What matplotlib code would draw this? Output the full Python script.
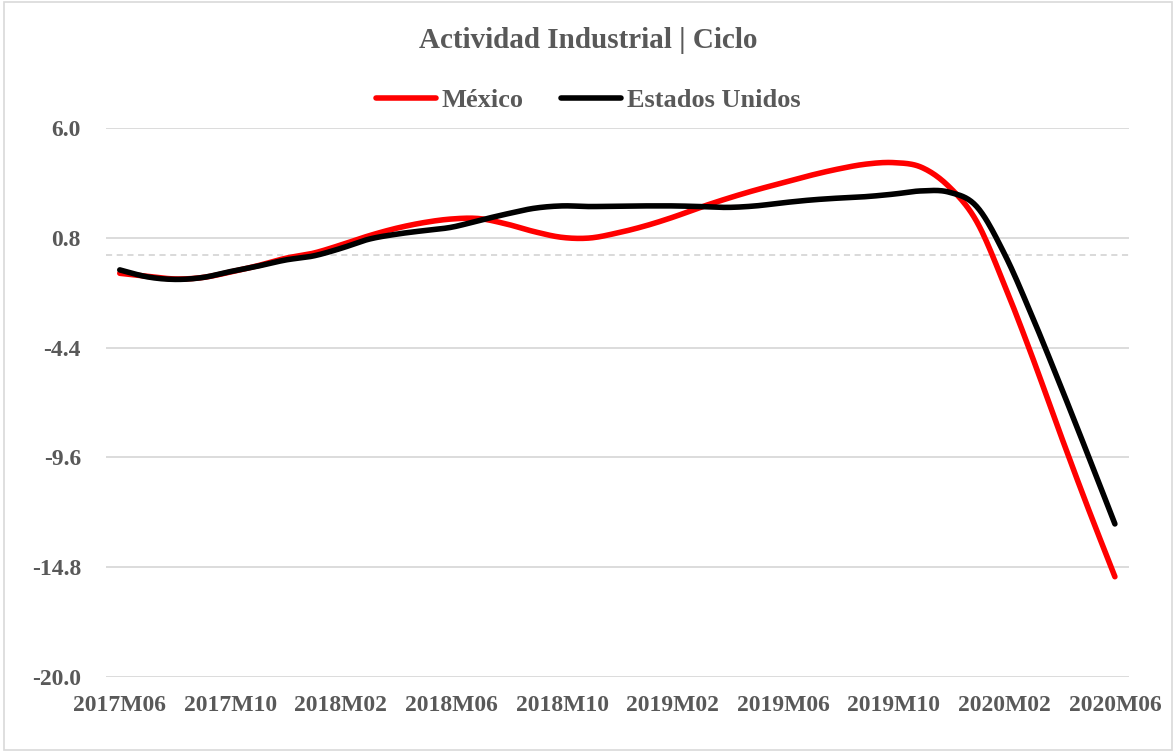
import numpy as np
import matplotlib
matplotlib.use('Agg')
import matplotlib.pyplot as plt
from matplotlib.patches import Rectangle

# Periodos mensuales 2017M06 - 2020M06
periodos = [f'{2017 + (5 + i) // 12}M{(5 + i) % 12 + 1:02d}' for i in range(37)]

mexico = [-0.88, -1.02, -1.15, -1.08, -0.82, -0.52, -0.17, 0.07, 0.46, 0.89,
          1.25, 1.52, 1.69, 1.71, 1.45, 1.09, 0.82, 0.79, 1.03, 1.36,
          1.77, 2.24, 2.67, 3.06, 3.41, 3.76, 4.06, 4.29, 4.36, 4.14,
          3.22, 1.57, -1.42, -4.80, -8.40, -11.90, -15.25]

estados_unidos = [-0.72, -1.05, -1.17, -1.08, -0.80, -0.54, -0.25, -0.06, 0.30, 0.73,
                  0.97, 1.14, 1.30, 1.62, 1.93, 2.20, 2.31, 2.28, 2.30, 2.31,
                  2.31, 2.28, 2.24, 2.31, 2.46, 2.59, 2.68, 2.75, 2.87, 3.02,
                  2.96, 2.28, 0.05, -2.90, -6.10, -9.40, -12.75]

y_ticks = [6.0, 0.8, -4.4, -9.6, -14.8, -20.0]

GRIS = '#595959'
FUENTE = 'Liberation Serif'


def suavizar(y, pasos=20):
    """Curva suavizada tipo Excel (Catmull-Rom / Bezier) entre puntos mensuales."""
    y = np.asarray(y, dtype=float)
    x = np.arange(len(y), dtype=float)
    xp = np.concatenate([[x[0]], x, [x[-1]]])
    yp = np.concatenate([[y[0]], y, [y[-1]]])
    xs, ys = [], []
    t = np.linspace(0, 1, pasos, endpoint=False)
    for i in range(1, len(xp) - 2):
        p0 = np.array([xp[i], yp[i]])
        p3 = np.array([xp[i + 1], yp[i + 1]])
        c1 = p0 + (p3 - np.array([xp[i - 1], yp[i - 1]])) / 6
        c2 = p3 - (np.array([xp[i + 2], yp[i + 2]]) - p0) / 6
        pts = ((1 - t) ** 3)[:, None] * p0 + (3 * (1 - t) ** 2 * t)[:, None] * c1 \
            + (3 * (1 - t) * t ** 2)[:, None] * c2 + (t ** 3)[:, None] * p3
        xs.extend(pts[:, 0])
        ys.extend(pts[:, 1])
    xs.append(x[-1])
    ys.append(y[-1])
    return np.array(xs), np.array(ys)


fig = plt.figure(figsize=(11.76, 7.52), dpi=100)
fig.patch.set_facecolor('white')
ax = fig.add_axes([0.0901, 0.0997, 0.8697, 0.7301])

# Lineas de la serie (EEUU por encima)
xm, ym = suavizar(mexico)
xe, ye = suavizar(estados_unidos)
ax.plot(xm, ym, color='#FF0000', lw=4.0, solid_capstyle='round', label='México', zorder=3)
ax.plot(xe, ye, color='#000000', lw=4.0, solid_capstyle='round', label='Estados Unidos', zorder=4)

# Rejilla horizontal y linea de cero
for v in y_ticks:
    ax.axhline(v, color='#d9d9d9', lw=1.3, zorder=1)
ax.axhline(0, color='#d0d0d0', lw=1.1, ls=(0, (4, 3)), zorder=1)

ax.set_xlim(-0.5, len(periodos) - 0.5)
ax.set_ylim(-20, 6)
ax.set_yticks(y_ticks)
ax.set_yticklabels([f'{v:.1f}' for v in y_ticks])
ax.set_xticks(range(0, len(periodos), 4))
ax.set_xticklabels(periodos[::4])

for s in ax.spines.values():
    s.set_visible(False)
ax.tick_params(axis='both', length=0, colors=GRIS)
ax.tick_params(axis='y', pad=18)
ax.tick_params(axis='x', pad=13)
for lbl in ax.get_xticklabels() + ax.get_yticklabels():
    lbl.set_fontfamily(FUENTE)
    lbl.set_fontweight('bold')
    lbl.set_fontsize(17)

fig.text(0.5, 0.946, 'Actividad Industrial | Ciclo', ha='center', va='center',
         fontsize=21, fontweight='bold', color=GRIS, family=FUENTE)

leg = fig.legend(loc='center', bbox_to_anchor=(0.5, 0.867), ncol=2, frameon=False,
                 handlelength=2.3, handletextpad=0.2, columnspacing=1.4,
                 prop={'family': FUENTE, 'weight': 'bold', 'size': 19})
for t in leg.get_texts():
    t.set_color(GRIS)

# Marco del grafico
fig.patches.append(Rectangle((0.003, 0.003), 0.994, 0.994, transform=fig.transFigure,
                             fill=False, edgecolor='#d9d9d9', lw=1.2))

fig.savefig('out.png', dpi=100, facecolor='white')
